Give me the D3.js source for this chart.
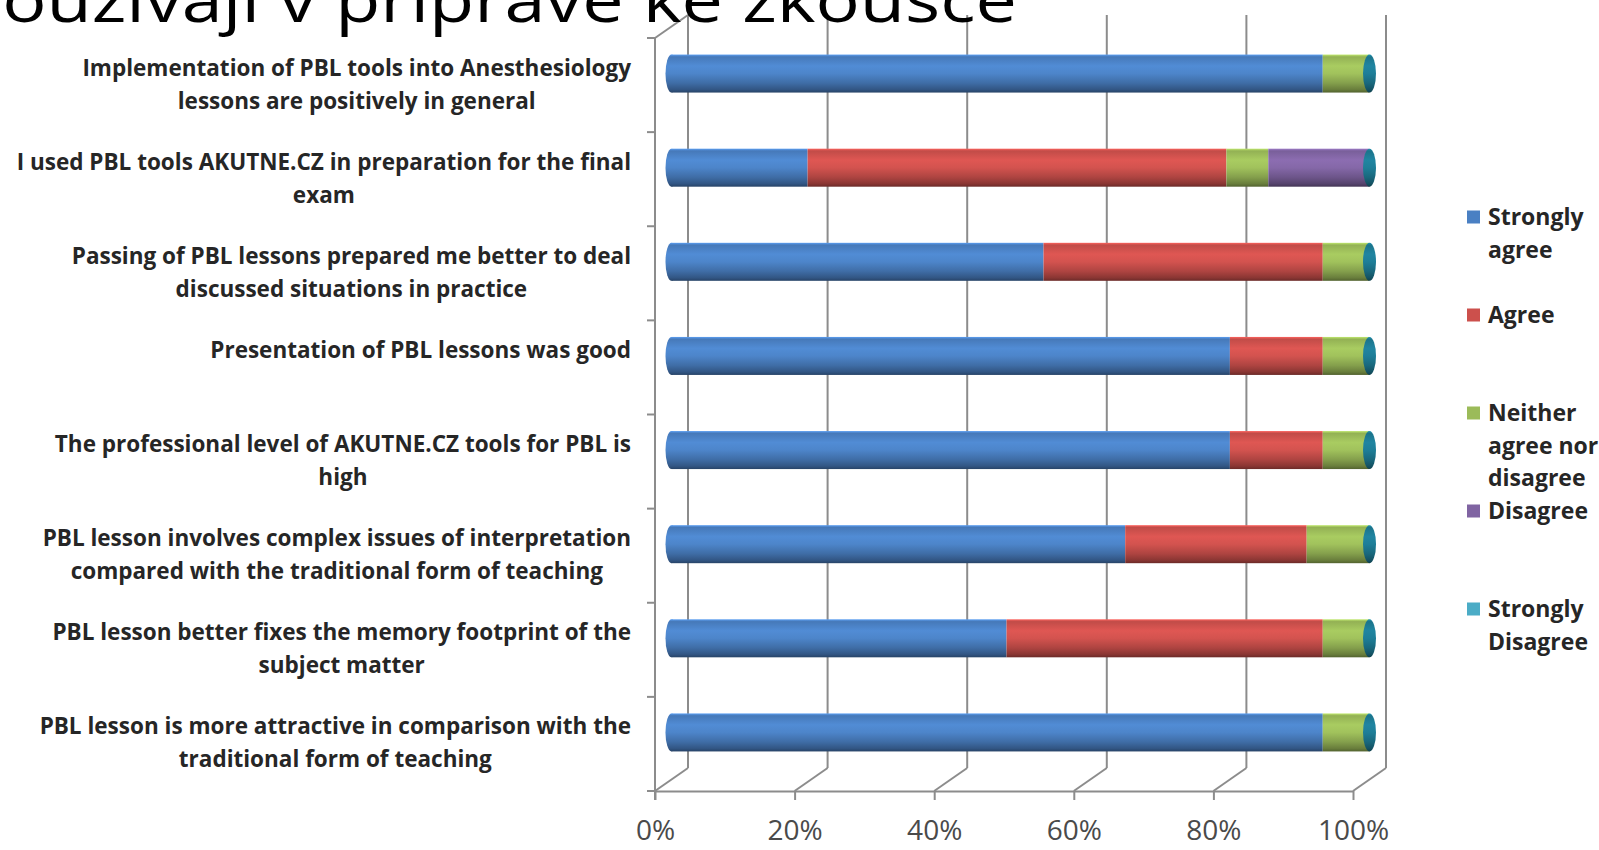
<!DOCTYPE html>
<html><head><meta charset="utf-8">
<script src="https://cdn.jsdelivr.net/npm/d3@7"></script>
<style>html,body{margin:0;padding:0;background:#fff;overflow:hidden}</style>
</head><body>
<svg id="c" width="1599" height="850"></svg>
<script>
// ---- data ----
const categoryLines = [
  ["Implementation of PBL tools into Anesthesiology", "lessons are positively in general"],
  ["I used PBL tools AKUTNE.CZ in preparation for the final", "exam"],
  ["Passing of PBL lessons prepared me better to deal", "discussed situations  in practice"],
  ["Presentation of PBL lessons was good"],
  ["The professional level of AKUTNE.CZ tools for PBL is", "high"],
  ["PBL lesson involves complex issues of interpretation", "compared with the traditional form of teaching"],
  ["PBL lesson better fixes the memory footprint of the", "subject matter"],
  ["PBL lesson is more attractive in comparison with the", "traditional form of teaching"]
];
const seriesNames = ["Strongly agree", "Agree", "Neither agree nor disagree", "Disagree", "Strongly Disagree"];
const legendLines = [["Strongly", "agree"], ["Agree"], ["Neither", "agree nor", "disagree"], ["Disagree"], ["Strongly", "Disagree"]];
const stronglyAgree     = [93.3, 19.5, 53.3, 80, 80, 65, 48, 93.3];
const agree             = [0, 60, 40, 13.3, 13.3, 26, 45.3, 0];
const neither           = [6.7, 6, 6.7, 6.7, 6.7, 9, 6.7, 6.7];
const disagree          = [0, 14.5, 0, 0, 0, 0, 0, 0];
const stronglyDisagree  = [0, 0, 0, 0, 0, 0, 0, 0];
const tickValues = [0, 20, 40, 60, 80, 100];
const titleText = "používají v přípravě ke zkoušce";

// ---- layout ----
const colors = ["#4a80c3", "#cc504c", "#9bbb59", "#8064a2", "#4bacc6"];
const capColor = "#1d7a93";
const front = {left: 655, right: 1353, top: 38, bottom: 791};
const depth = {dx: 33, dy: -23};

const svg = d3.select("#c");
const defs = svg.append("defs");
const keys = seriesNames;
const rows = categoryLines.map((c, i) => ({
  idx: i,
  [keys[0]]: stronglyAgree[i], [keys[1]]: agree[i], [keys[2]]: neither[i],
  [keys[3]]: disagree[i], [keys[4]]: stronglyDisagree[i]
}));
const stacked = d3.stack().keys(keys)(rows);

const xFront = d3.scaleLinear().domain([0, 100]).range([front.left, front.right]);
const xBack = d3.scaleLinear().domain([0, 100]).range([front.left + depth.dx, front.right + depth.dx]);
const xBar = d3.scaleLinear().domain([0, 100]).range([front.left + depth.dx / 2, front.right + depth.dx / 2]);
const yBand = d3.scaleBand().domain(d3.range(categoryLines.length)).range([front.top, front.bottom]);
const barH = 38;
const barCenter = i => yBand(i) + yBand.bandwidth() / 2 + depth.dy / 2;

// gradients
function addGrad(id, base) {
  const c = d3.color(base);
  const g = defs.append("linearGradient").attr("id", id).attr("x1", 0).attr("y1", 0).attr("x2", 0).attr("y2", 1);
  const stops = [
    [0, c.brighter(0.6)], [0.06, c.darker(0.15)], [0.3, c.brighter(0.25)], [0.5, c.brighter(0.1)],
    [0.75, c.darker(0.45)], [0.92, c.darker(1.1)], [1, c.darker(1.8)]
  ];
  stops.forEach(([o, col]) => g.append("stop").attr("offset", o).attr("stop-color", col.formatHex()));
}
colors.forEach((c, i) => addGrad("g" + i, c));
addGrad("gcap", capColor);

const gridColor = "#8c8c8c";
const backBottom = front.bottom + depth.dy;
const backTop = front.top + depth.dy;

// back wall gridlines
svg.append("g").selectAll("line").data(tickValues).join("line")
  .attr("x1", d => xBack(d)).attr("x2", d => xBack(d))
  .attr("y1", backTop).attr("y2", backBottom)
  .attr("stroke", gridColor).attr("stroke-width", 2);
// floor diagonals
svg.append("g").selectAll("line").data(tickValues).join("line")
  .attr("x1", d => xBack(d)).attr("x2", d => xFront(d))
  .attr("y1", backBottom).attr("y2", front.bottom)
  .attr("stroke", gridColor).attr("stroke-width", 2);
// left wall top diagonal
svg.append("line").attr("x1", front.left).attr("y1", front.top).attr("x2", xBack(0)).attr("y2", backTop)
  .attr("stroke", gridColor).attr("stroke-width", 2);

// left category axis (front)
svg.append("line").attr("x1", front.left).attr("x2", front.left).attr("y1", front.top).attr("y2", front.bottom + 9)
  .attr("stroke", gridColor).attr("stroke-width", 2);
const boundaries = d3.range(categoryLines.length + 1).map(k => front.top + k * yBand.bandwidth());
svg.append("g").selectAll("line").data(boundaries).join("line")
  .attr("x1", front.left - 8).attr("x2", front.left)
  .attr("y1", d => d).attr("y2", d => d)
  .attr("stroke", gridColor).attr("stroke-width", 2);

// bottom value axis
const axis = d3.axisBottom(xFront).tickValues(tickValues).tickFormat(d => d + "%").tickSizeInner(9).tickSizeOuter(0).tickPadding(20);
const ax = svg.append("g").attr("transform", `translate(0,${front.bottom})`).call(axis);
ax.select(".domain").attr("stroke", gridColor).attr("stroke-width", 2);
ax.selectAll(".tick line").attr("stroke", gridColor).attr("stroke-width", 2);
ax.selectAll(".tick text").attr("fill", "#4a4a4a").style("font-family", "'Open Sans', sans-serif").style("font-size", "28px");

// bars
const bars = svg.append("g");
rows.forEach((r, i) => {
  const cy = barCenter(i);
  const firstNonZero = keys.findIndex(k => r[k] > 0);
  bars.append("ellipse").attr("cx", xBar(0)).attr("cy", cy).attr("rx", 6).attr("ry", barH / 2)
    .attr("fill", `url(#g${firstNonZero})`);
});
stacked.forEach((s, si) => {
  bars.append("g").selectAll("rect").data(s.filter(d => d[1] - d[0] > 0)).join("rect")
    .attr("x", d => xBar(d[0]))
    .attr("width", d => xBar(d[1]) - xBar(d[0]))
    .attr("y", d => barCenter(d.data.idx) - barH / 2)
    .attr("height", barH)
    .attr("fill", `url(#g${si})`);
});
rows.forEach((r, i) => {
  const cy = barCenter(i);
  bars.append("ellipse").attr("cx", xBar(100)).attr("cy", cy).attr("rx", 6.5).attr("ry", barH / 2)
    .attr("fill", "url(#gcap)");
});

// category labels
const labelRight = 631;
const lab = svg.append("g").style("font-family", "'Open Sans', sans-serif").style("font-size", "22.5px").style("font-weight", "bold").attr("fill", "#262626");
categoryLines.forEach((lines, i) => {
  const g = lab.append("g");
  const texts = lines.map((t, li) => g.append("text").attr("y", barCenter(i) + 2 + li * 33).attr("text-anchor", "middle").text(t));
  const maxW = d3.max(texts, t => t.node().getComputedTextLength());
  texts.forEach(t => t.attr("x", labelRight - maxW / 2));
});

// legend
const leg = svg.append("g").style("font-family", "'Open Sans', sans-serif").style("font-size", "23px").style("font-weight", "bold").attr("fill", "#262626");
const legCenters = [217, 315, 413, 511, 609];
legendLines.forEach((lines, i) => {
  const cy = legCenters[i];
  leg.append("rect").attr("x", 1467).attr("y", cy - 6.5).attr("width", 13).attr("height", 13).attr("fill", colors[i]);
  lines.forEach((t, li) => leg.append("text").attr("x", 1488).attr("y", cy + 8 + li * 32.5).text(t));
});

// title (only its lower part is visible, as in the reference)
svg.append("text").attr("x", -43).attr("y", 22)
  .attr("textLength", 1060).attr("lengthAdjust", "spacingAndGlyphs")
  .style("font-family", "'Open Sans', sans-serif").style("font-size", "62px").attr("fill", "#000")
  .text(titleText);
</script>
</body></html>
